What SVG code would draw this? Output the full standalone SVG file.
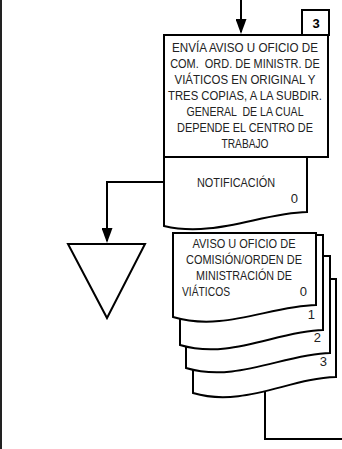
<svg xmlns="http://www.w3.org/2000/svg" width="342" height="449" viewBox="0 0 342 449">
<style>
.s{fill:#fff;stroke:#000;stroke-width:2;stroke-linejoin:miter}
.c{fill:none;stroke:#000;stroke-width:2}
text{white-space:pre}
.t{font-family:"Liberation Sans",Arial,sans-serif;font-size:13px;fill:#222;text-anchor:middle}
.n{font-family:"Liberation Sans",Arial,sans-serif;font-size:13px;fill:#222;text-anchor:end}
.b{font-family:"Liberation Sans",Arial,sans-serif;font-size:13px;font-weight:bold;fill:#000;text-anchor:middle}
</style>
<defs>
<marker id="ah" markerUnits="userSpaceOnUse" markerWidth="15" markerHeight="11" viewBox="0 0 15 11" refX="13" refY="5.5" orient="auto">
<path d="M0,0 L15,5.5 L0,11 Z" fill="#000"/>
</marker>
</defs>
<rect width="342" height="449" fill="#fff"/>
<line x1="1" y1="0" x2="1" y2="449" stroke="#222" stroke-width="2"/>
<g id="connectors">
<path class="c" d="M241,0 V32" marker-end="url(#ah)"/>
<path class="c" d="M164,182 H107 V241" marker-end="url(#ah)"/>
<path class="c" d="M265,391 V439 H342"/>
</g>
<g id="step3">
<rect class="s" x="302" y="10" width="27" height="25"/>
<text class="b" x="316" y="28">3</text>
</g>
<g id="process">
<rect class="s" x="164" y="35" width="164" height="122"/>
<text class="t" x="245" y="52" textLength="146" lengthAdjust="spacingAndGlyphs">ENVÍA AVISO U OFICIO DE</text>
<text class="t" transform="translate(245,68) scale(0.88,1)" x="0" y="0" textLength="170" lengthAdjust="spacingAndGlyphs" xml:space="preserve">COM.  ORD. DE MINISTR. DE</text>
<text class="t" x="245" y="84" textLength="141" lengthAdjust="spacingAndGlyphs">VIÁTICOS EN ORIGINAL Y</text>
<text class="t" transform="translate(245,100) scale(0.88,1)" x="0" y="0" textLength="175" lengthAdjust="spacingAndGlyphs">TRES COPIAS, A LA SUBDIR.</text>
<text class="t" x="245" y="116" textLength="117" lengthAdjust="spacingAndGlyphs" xml:space="preserve">GENERAL  DE LA CUAL</text>
<text class="t" x="245" y="132" textLength="136" lengthAdjust="spacingAndGlyphs">DEPENDE EL CENTRO DE</text>
<text class="t" x="245" y="148" textLength="47" lengthAdjust="spacingAndGlyphs">TRABAJO</text>
</g>
<g id="notificacion">
<path class="s" d="M164,157 H307 V212 C261,213 214,238 164,226 Z"/>
<text class="t" x="236" y="187" textLength="78" lengthAdjust="spacingAndGlyphs">NOTIFICACIÓN</text>
<text class="n" x="298" y="203">0</text>
</g>
<g id="archivo">
<path class="s" d="M68,244 H145 L107,318 Z"/>
</g>
<g id="aviso">
<path class="s" d="M193,279 H336 V377 C290,378 243,408 193,393 Z"/>
<path class="s" d="M186,256 H330 V353 C284,354 236,383 186,368 Z"/>
<path class="s" d="M180,235 H323 V330 C277,331 230,360 180,345 Z"/>
<path class="s" d="M173,233 H316 V305 C270,306 223,332 173,317 Z"/>
<text class="t" x="244" y="248" textLength="103" lengthAdjust="spacingAndGlyphs">AVISO U OFICIO DE</text>
<text class="t" x="244" y="264" textLength="116" lengthAdjust="spacingAndGlyphs">COMISIÓN/ORDEN DE</text>
<text class="t" x="244" y="280" textLength="96" lengthAdjust="spacingAndGlyphs">MINISTRACIÓN DE</text>
<text x="182" y="296" font-family="Liberation Sans, Arial, sans-serif" font-size="13" fill="#222" textLength="48" lengthAdjust="spacingAndGlyphs">VIÁTICOS</text>
<text class="n" x="307" y="296">0</text>
<text class="n" x="315" y="319">1</text>
<text class="n" x="321" y="342">2</text>
<text class="n" x="327" y="366">3</text>
</g>
</svg>
